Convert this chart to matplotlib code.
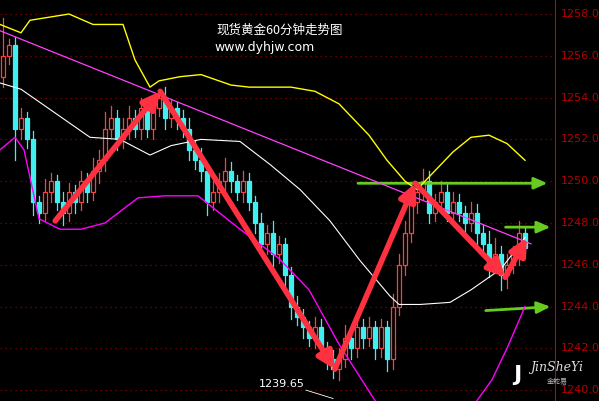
import matplotlib
matplotlib.use("Agg")
import matplotlib.pyplot as plt
import numpy as np

plt.rcParams['font.family'] = ['Noto Sans CJK SC', 'DejaVu Sans']

closes = [1256, 1256.5, 1252.5, 1253, 1252,
          1249, 1248.5, 1249.5, 1250, 1249,
          1248.5, 1249.5, 1249, 1250, 1249.5,
          1250.5, 1251, 1252.5, 1253, 1252,
          1252.5, 1253, 1252.5, 1253.5, 1252.5,
          1253.5, 1254, 1253, 1253.5, 1253,
          1252.5, 1251.5, 1251, 1250.5, 1249,
          1249.5, 1250, 1250.5, 1250, 1249.5,
          1250, 1249, 1248, 1247, 1247.5,
          1246.5, 1247, 1245.5, 1244, 1243.5,
          1243, 1242.5, 1243, 1242, 1241.5,
          1241, 1241.5, 1242.5, 1242, 1243,
          1242.5, 1243, 1242, 1243, 1241.5,
          1244, 1246, 1247.5, 1249, 1249.5,
          1250, 1248.5, 1249, 1249.5, 1248.5,
          1249, 1248.5, 1248, 1248.5, 1247.5,
          1247, 1246, 1246.5, 1245.5, 1246,
          1246.5, 1247.5, 1246.8]
first_open = 1255
up_wick = [1.8, 0.3, 0.4, 0.5, 0.3, 0.4, 0.3, 0.6, 0.4, 0.3,
           0.5, 0.4, 0.3, 0.5, 0.4, 0.6, 0.5, 0.8, 0.6, 0.4,
           0.5, 0.6, 0.4, 0.5, 0.3, 0.6, 0.4, 0.5, 0.4, 0.3,
           0.4, 0.5, 0.4, 0.6, 0.3, 0.5, 0.4, 0.6, 0.4, 0.3,
           0.5, 0.4, 0.3, 0.5, 0.4, 0.6, 0.4, 0.3, 0.4, 0.5,
           0.4, 0.3, 0.5, 0.4, 0.3, 0.4, 0.5, 0.6, 0.4, 0.5,
           0.4, 0.5, 0.3, 0.4, 0.3, 0.6, 0.5, 0.6, 0.5, 0.4,
           0.6, 0.5, 0.4, 0.5, 0.4, 0.5, 0.4, 0.3, 0.5, 0.4,
           0.4, 0.6, 0.8, 0.4, 0.5, 0.4, 0.6, 0.3]
dn_wick = [0.5, 0.4, 1.5, 0.5, 0.4, 0.6, 0.5, 0.4, 0.5, 0.4,
           0.6, 0.4, 0.5, 0.4, 0.5, 0.4, 0.6, 0.5, 0.4, 0.5,
           0.4, 0.5, 0.4, 0.5, 0.4, 0.5, 0.4, 0.5, 0.4, 0.5,
           0.4, 0.5, 0.4, 0.5, 0.6, 0.4, 0.5, 0.4, 0.5, 0.4,
           0.5, 0.4, 0.5, 0.4, 0.5, 0.6, 0.4, 0.5, 0.6, 0.4,
           0.5, 0.4, 0.5, 0.4, 0.5, 0.4, 0.5, 0.4, 0.5, 0.4,
           0.5, 0.4, 0.5, 0.4, 0.6, 0.5, 0.4, 0.5, 0.4, 0.5,
           0.4, 0.5, 0.4, 0.5, 0.4, 0.5, 0.4, 0.5, 0.4, 0.5,
           0.4, 0.6, 0.4, 0.7, 0.6, 0.4, 0.5, 0.3]

upper_x = [-0.5, 3, 4.5, 11, 15, 20, 22, 24.5, 26, 29.5, 33, 38, 41, 48, 52, 56, 61, 64, 67, 69, 72, 75, 78, 81, 84, 87]
upper_y = [1257.5, 1257.1, 1257.7, 1258.0, 1257.5, 1257.5, 1255.8, 1254.5, 1254.8, 1255.0, 1255.1, 1254.6, 1254.5, 1254.5, 1254.3, 1253.7, 1252.2, 1251.0, 1250.0, 1249.6, 1250.5, 1251.4, 1252.1, 1252.2, 1251.8, 1251.0]
mid_x = [-0.5, 3, 8, 14.5, 19.5, 24.5, 28, 33, 39.5, 44.5, 49.5, 54.5, 59.5, 64.5, 66, 69.5, 74.5, 78, 83, 87]
mid_y = [1254.7, 1254.4, 1253.4, 1252.1, 1252.0, 1251.25, 1251.7, 1252.0, 1251.9, 1250.8, 1249.6, 1248.1, 1246.2, 1244.5, 1244.1, 1244.1, 1244.2, 1244.8, 1245.8, 1247.3]
low_x = [-0.5, 2, 3.5, 6, 9.5, 13, 17, 22.5, 27, 32.5, 39.5, 46, 51, 56, 62]
low_y = [1251.5, 1252.1, 1251.5, 1248.2, 1247.7, 1247.7, 1248.0, 1249.2, 1249.3, 1249.3, 1247.7, 1246.3, 1244.8, 1242.2, 1239.5]
low2_x = [79, 81.5, 84, 87]
low2_y = [1239.5, 1240.5, 1242.0, 1244.0]

trend_x = [-0.5, 88]
trend_y = [1257.2, 1247.0]

arrow_x = [8.7, 26.2, 55.3, 68.7, 83.7, 87.3]
arrow_y = [1248.1, 1254.3, 1241.0, 1249.9, 1245.4, 1247.3]

green_lines = [((58.7, 1249.9), (91.2, 1249.9)),
               ((83.3, 1247.8), (91.7, 1247.8)),
               ((80.0, 1243.8), (91.7, 1244.0))]

y_ticks = [1240, 1242, 1244, 1246, 1248, 1250, 1252, 1254, 1256, 1258]

fig = plt.figure(figsize=(5.99, 4.01), dpi=100, facecolor='black')
ax = fig.add_axes([0, 0, 555/599, 1])
ax.set_facecolor('black')
ax.set_xlim(-0.5, 92)
ax.set_ylim(1239.48, 1258.67)
for s in ax.spines.values():
    s.set_visible(False)
ax.spines['right'].set_visible(True)
ax.spines['right'].set_color('#cc0000')
ax.set_xticks([])
ax.set_yticks([])
for t in y_ticks:
    ax.axhline(t, color='#8b0000', lw=0.9, ls=(0, (1, 3)), zorder=0)
    ax.text(1.01, t, f"{t:.1f}", transform=ax.get_yaxis_transform(), color='#b30000',
            fontsize=8, va='center', ha='left', family='DejaVu Sans', clip_on=False)

opens = [first_open] + closes[:-1]
for i, (o, c) in enumerate(zip(opens, closes)):
    hi = max(o, c) + up_wick[i]
    lo = min(o, c) - dn_wick[i]
    up = c >= o
    col = '#ff4040' if up else '#40f0f0'
    ax.plot([i, i], [lo, hi], color=col, lw=0.9, zorder=2)
    b0 = min(o, c); h = max(abs(c - o), 0.05)
    ax.add_patch(plt.Rectangle((i - 0.35, b0), 0.7, h, facecolor='black' if up else col,
                               edgecolor=col, lw=0.9, zorder=3))

ax.plot(upper_x, upper_y, color='#ffff00', lw=1, zorder=4)
ax.plot(mid_x, mid_y, color='#ffffff', lw=0.8, zorder=4)
ax.plot(low_x, low_y, color='#ff00ff', lw=1, zorder=4)
ax.plot(low2_x, low2_y, color='#ff00ff', lw=1, zorder=4)
ax.plot(trend_x, trend_y, color='#ff40ff', lw=0.9, zorder=4)

for (p0, p1) in green_lines:
    ax.annotate('', xy=p1, xytext=p0,
                arrowprops=dict(arrowstyle='-|>,head_width=0.35,head_length=0.8', color='#66cc22', lw=2))

for k in range(len(arrow_x) - 1):
    ax.annotate('', xy=(arrow_x[k+1], arrow_y[k+1]), xytext=(arrow_x[k], arrow_y[k]),
                arrowprops=dict(arrowstyle='-|>,head_width=0.5,head_length=1.0', color='#ff3040',
                                lw=4, shrinkA=0, shrinkB=0), zorder=6)

ax.text(46.5, 1240.3, '1239.65', color='white', fontsize=8, ha='center', va='center', family='DejaVu Sans')
ax.plot([50.5, 55], [1240.0, 1239.6], color='white', lw=0.6)

fig.text(280/599, 1 - 30/401, '现货黄金60分钟走势图', color='white', fontsize=9, ha='center', va='center')
fig.text(265/599, 1 - 48/401, 'www.dyhjw.com', color='white', fontsize=9, ha='center', va='center', family='DejaVu Sans')
fig.text(557/599, 1 - 368/401, 'JinSheYi', color='#dddddd', fontsize=9, style='italic', ha='center', va='center', family='DejaVu Serif')
fig.text(557/599, 1 - 382/401, '金蛇易', color='#bbbbbb', fontsize=5, ha='center', va='center')
fig.text(517/599, 1 - 375/401, 'J', color='white', fontsize=16, weight='bold', ha='center', va='center', family='DejaVu Sans')

fig.savefig('out.png', dpi=100, facecolor='black')
